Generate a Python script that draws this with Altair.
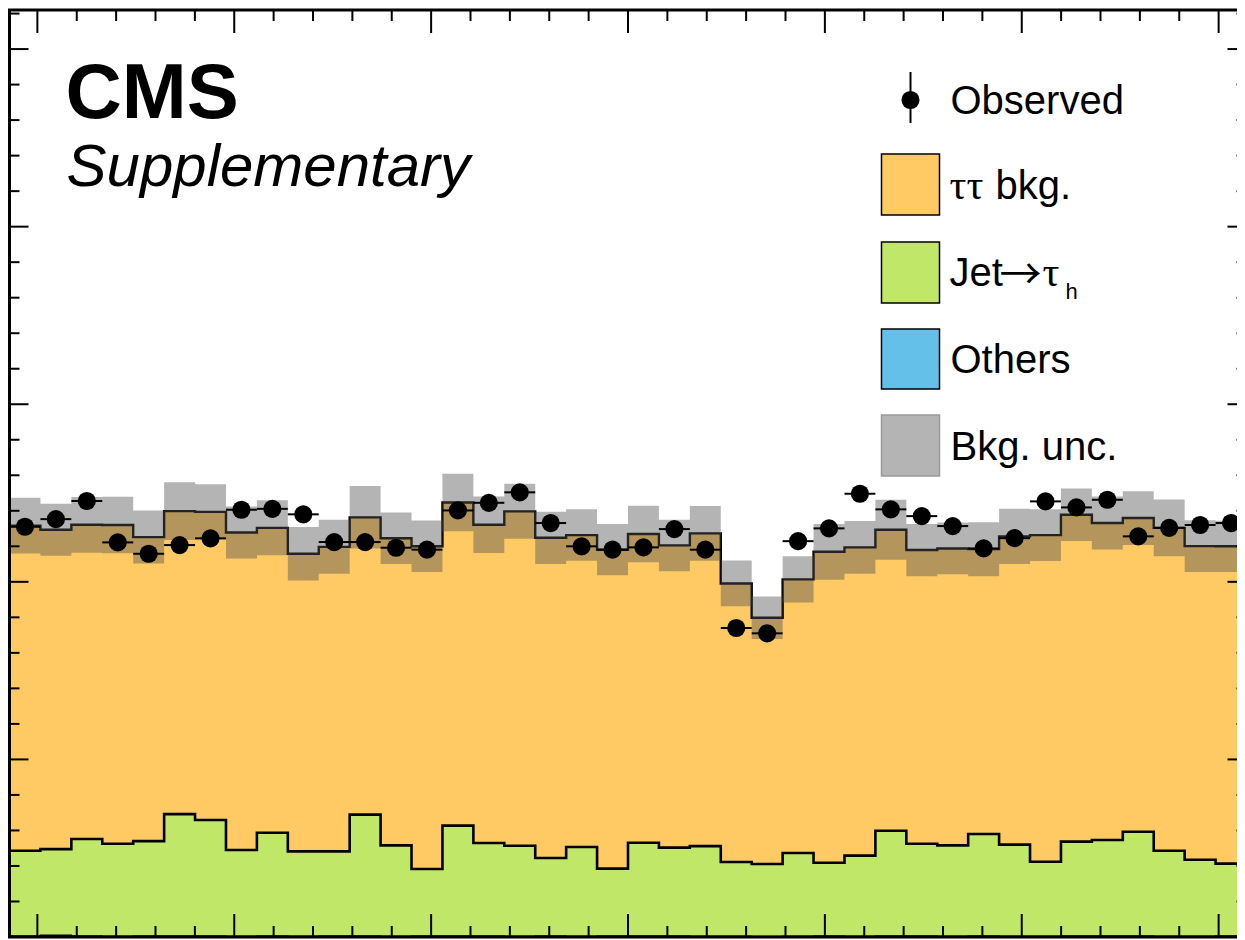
import math
import pandas as pd
import altair as alt

# ---------------- data (40 bins in phi, -pi..pi) ----------------
n_bins = 40
others = [6, 10, 5, 4, 5, 6, 5, 4, 5, 4, 5, 6, 4, 5, 6, 5, 4, 5, 4, 5,
          6, 5, 4, 4, 3, 4, 5, 4, 6, 5, 4, 5, 4, 4, 5, 5, 6, 4, 4, 5]
jet_to_tau = [480, 485, 547, 521, 535, 686, 654, 486, 582, 478, 477, 683, 512, 378, 621, 524, 510, 440, 503, 380,
              525, 498, 508, 418, 408, 469, 413, 454, 592, 520, 512, 575, 516, 420, 532, 541, 587, 482, 431, 408]
tautau = [1830, 1798, 1769, 1795, 1712, 1706, 1735, 1788, 1717, 1676, 1715, 1674, 1729, 1817, 1820, 1792, 1883, 1803, 1756, 1796,
          1738, 1702, 1761, 1569, 1387, 1541, 1751, 1736, 1695, 1654, 1672, 1604, 1736, 1839, 1841, 1785, 1766, 1818, 1766, 1787]
bkg_unc = [157, 146, 157, 159, 149, 163, 155, 146, 155, 151, 152, 176, 145, 145, 162, 159, 155, 147, 145, 144,
           159, 145, 154, 129, 120, 130, 157, 149, 169, 147, 146, 152, 155, 146, 148, 149, 151, 160, 146, 144]
observed = [2310, 2353, 2455, 2222, 2158, 2207, 2245, 2406, 2411, 2380, 2224, 2224, 2192, 2181, 2402, 2445, 2504, 2331, 2200, 2181,
            2194, 2297, 2181, 1740, 1710, 2229, 2301, 2496, 2408, 2370, 2314, 2188, 2246, 2453, 2419, 2462, 2256, 2304, 2320, 2331]

x_major = [-3, -2, -1, 0, 1, 2, 3]
x_minor = [round(-3 + 0.2 * k, 1) for k in range(31) if k % 5 != 0]
y_major = [0, 1000, 2000, 3000, 4000, 5000]
y_minor = [v for v in range(200, 5201, 200) if v % 1000 != 0]

# ---------------- styling ----------------
ORANGE = "#ffca64"
GREEN = "#c1e768"
BLUE = "#64c0e8"
BAND = "#515151"
FONT = "Liberation Sans"
SERIF = "Liberation Serif"

W, H = 1237, 927
PI = math.pi
xs = alt.Scale(domain=[-PI, PI], nice=False, zero=False)
ys = alt.Scale(domain=[0, 5220], nice=False, zero=False)

edges = [-PI + i * 2 * PI / n_bins for i in range(n_bins + 1)]

bins = pd.DataFrame({
    "lo": edges[:-1],
    "hi": edges[1:],
    "ctr": [(edges[i] + edges[i + 1]) / 2 for i in range(n_bins)],
    "obs": observed,
})

oth_c = list(others)
jet_c = [o + j for o, j in zip(others, jet_to_tau)]
tot_c = [c + t for c, t in zip(jet_c, tautau)]
blo = [t - u for t, u in zip(tot_c, bkg_unc)]
bhi = [t + u for t, u in zip(tot_c, bkg_unc)]

step = pd.DataFrame({
    "x": edges,
    "oth": oth_c + [oth_c[-1]],
    "cj": jet_c + [jet_c[-1]],
    "tot": tot_c + [tot_c[-1]],
    "blo": blo + [blo[-1]],
    "bhi": bhi + [bhi[-1]],
})

X = alt.X("x:Q", scale=xs, axis=None)


def Y(f):
    return alt.Y(f, scale=ys, axis=None)


base = alt.Chart(step)
area_tt = base.mark_area(interpolate="step-after", color=ORANGE).encode(x=X, y=Y("tot:Q"), y2="cj:Q")
area_jet = base.mark_area(interpolate="step-after", color=GREEN).encode(x=X, y=Y("cj:Q"), y2="oth:Q")
area_oth = base.mark_area(interpolate="step-after", color=BLUE).encode(x=X, y=Y("oth:Q"), y2=alt.datum(0))
line_oth = base.mark_line(interpolate="step-after", color="black", strokeWidth=1.5).encode(x=X, y=Y("oth:Q"))
line_jet = base.mark_line(interpolate="step-after", color="black", strokeWidth=2.6).encode(x=X, y=Y("cj:Q"))
line_tot = base.mark_line(interpolate="step-after", color="black", strokeWidth=2.4).encode(x=X, y=Y("tot:Q"))
band = base.mark_area(interpolate="step-after", color=BAND, opacity=0.43).encode(x=X, y=Y("blo:Q"), y2="bhi:Q")

ob = alt.Chart(bins)
obs_h = ob.mark_rule(color="black", strokeWidth=2).encode(
    x=alt.X("lo:Q", scale=xs, axis=None), x2="hi:Q", y=Y("obs:Q"))
obs_pt = ob.mark_circle(color="black", opacity=1, size=330).encode(
    x=alt.X("ctr:Q", scale=xs, axis=None), y=Y("obs:Q"))


def xticks(vals, length):
    d = alt.Chart(pd.DataFrame({"v": vals}))
    bot = d.mark_rule(color="black", strokeWidth=2).encode(
        x=alt.X("v:Q", scale=xs, axis=None), y=alt.value(H), y2=alt.value(H - length))
    top = d.mark_rule(color="black", strokeWidth=2).encode(
        x=alt.X("v:Q", scale=xs, axis=None), y=alt.value(0), y2=alt.value(length))
    return [bot, top]


def yticks(vals, length):
    d = alt.Chart(pd.DataFrame({"v": vals}))
    left = d.mark_rule(color="black", strokeWidth=2).encode(
        y=alt.Y("v:Q", scale=ys, axis=None), x=alt.value(0), x2=alt.value(length))
    right = d.mark_rule(color="black", strokeWidth=2).encode(
        y=alt.Y("v:Q", scale=ys, axis=None), x=alt.value(W), x2=alt.value(W - length))
    return [left, right]


ticks = xticks(x_major, 23) + xticks(x_minor, 11) + yticks(y_major, 19) + yticks(y_minor, 10)

one = alt.Data(values=[{"a": 1}])


def text(t, x, y, size, font=FONT, weight="normal", style="normal"):
    return alt.Chart(one).mark_text(
        text=t, align="left", baseline="alphabetic", font=font, fontSize=size,
        fontWeight=weight, fontStyle=style, color="black").encode(x=alt.value(x), y=alt.value(y))


def box(x0, x1, y0, y1, fill, stroke, opacity=1.0):
    return alt.Chart(one).mark_rect(fill=fill, fillOpacity=opacity, stroke=stroke, strokeWidth=1.5).encode(
        x=alt.value(x0), x2=alt.value(x1), y=alt.value(y0), y2=alt.value(y1))


annot = [
    text("CMS", 56, 108, 78, weight="bold"),
    text("Supplementary", 57, 176, 60, style="italic"),
    # legend
    alt.Chart(one).mark_rule(color="black", strokeWidth=2).encode(
        x=alt.value(901), y=alt.value(62), y2=alt.value(113)),
    alt.Chart(one).mark_circle(color="black", opacity=1, size=330).encode(x=alt.value(901), y=alt.value(90)),
    text("Observed", 941, 104, 40),
    box(872, 930, 144, 205, ORANGE, "black"),
    text("\u03c4\u03c4", 940, 189, 42, font=SERIF),
    text("bkg.", 986, 189, 40),
    box(872, 930, 232, 293, GREEN, "black"),
    text("Jet", 940, 276, 40),
    text("\u2192", 990, 279, 42, font="Noto Sans CJK SC"),
    text("\u03c4", 1033, 276, 42, font=SERIF),
    text("h", 1056, 289, 22),
    box(872, 930, 319, 379, BLUE, "black"),
    text("Others", 941, 363, 40),
    box(872, 930, 405, 466, BAND, "#999999", opacity=0.43),
    text("Bkg. unc.", 941, 450, 40),
]

frame = alt.Chart(one).mark_rect(fillOpacity=0, stroke="black", strokeWidth=3).encode(
    x=alt.value(0), x2=alt.value(W), y=alt.value(0), y2=alt.value(H))

chart = alt.layer(
    area_tt, area_jet, area_oth, line_oth, line_jet, line_tot, band, obs_h, obs_pt,
    *ticks, *annot, frame
).properties(
    width=W, height=H,
    padding={"left": 1.5, "top": 2, "right": -9.5, "bottom": 2},
    autosize=alt.AutoSizeParams(type="none"),
).configure_view(stroke=None)

chart.save("out.html", embed_options={"renderer": "svg", "actions": False})
